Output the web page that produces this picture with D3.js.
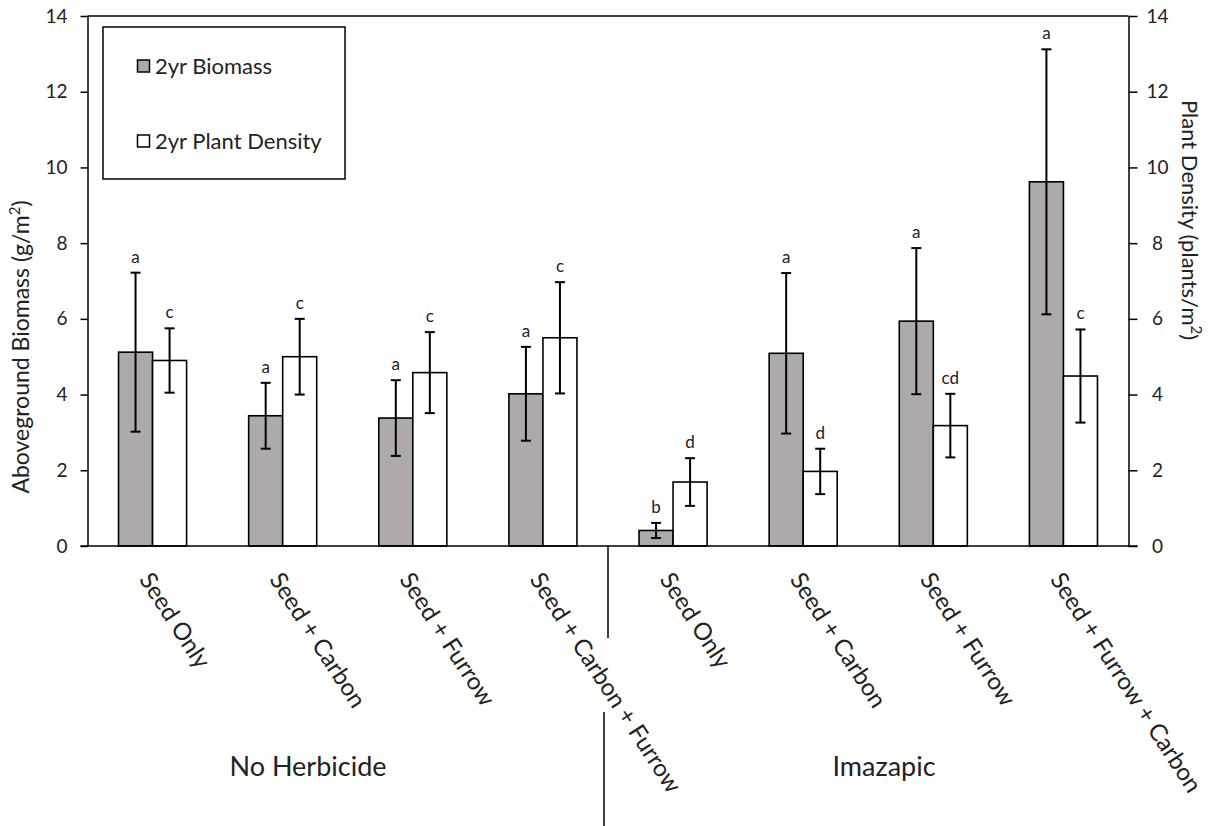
<!DOCTYPE html>
<html>
<head>
<meta charset="utf-8">
<script src="https://cdn.jsdelivr.net/npm/d3@7"></script>
<style>
  html, body { margin: 0; padding: 0; background: #fff; }
  svg { display: block; font-family: Lato, "Open Sans", sans-serif; }
</style>
</head>
<body>
<svg id="chart" width="1212" height="826"></svg>
<script>
// ---- data ----
const categories = ["Seed Only", "Seed + Carbon", "Seed + Furrow", "Seed + Carbon + Furrow",
                    "Seed Only", "Seed + Carbon", "Seed + Furrow", "Seed + Furrow + Carbon"];
const groups = ["No Herbicide", "Imazapic"];
const biomass = [5.12, 3.44, 3.38, 4.02, 0.41, 5.09, 5.94, 9.62];
const biomassErr = [2.10, 0.87, 1.00, 1.24, 0.20, 2.12, 1.93, 3.50];
const biomassLetters = ["a", "a", "a", "a", "b", "a", "a", "a"];
const density = [4.90, 5.00, 4.58, 5.50, 1.69, 1.97, 3.18, 4.49];
const densityErr = [0.85, 1.00, 1.07, 1.47, 0.63, 0.60, 0.84, 1.23];
const densityLetters = ["c", "c", "c", "c", "d", "d", "cd", "c"];
const yTicks = [0, 2, 4, 6, 8, 10, 12, 14];
const seriesNames = ["2yr Biomass", "2yr Plant Density"];

// ---- layout ----
const svg = d3.select("#chart");
const X0 = 87.5, X1 = 1128.5, Y0 = 546, Y1 = 16;
const grayFill = "#aeaaaa";

const idx = d3.range(categories.length);
const x = d3.scaleBand().domain(idx).range([X0, X1]).paddingInner(0.477).paddingOuter(0.2385);
const inner = d3.scaleBand().domain([0, 1]).range([0, x.bandwidth()]);
const yL = d3.scaleLinear().domain([0, 14]).range([Y0, Y1]);
const yR = d3.scaleLinear().domain([0, 14]).range([Y0, Y1]);

// top border
svg.append("line").attr("x1", X0).attr("x2", X1).attr("y1", Y1).attr("y2", Y1)
  .attr("stroke", "#000").attr("stroke-width", 1.5);

// left axis
const gL = svg.append("g").attr("transform", `translate(${X0},0)`)
  .call(d3.axisLeft(yL).tickValues(yTicks).tickSize(7).tickSizeOuter(0).tickPadding(13));
gL.select(".domain").attr("stroke-width", 1.5);
gL.selectAll(".tick line").attr("stroke-width", 1.5);
gL.selectAll(".tick text").attr("font-size", 19).attr("font-family", "Lato").attr("fill", "#222");

// right axis
const gR = svg.append("g").attr("transform", `translate(${X1},0)`)
  .call(d3.axisRight(yR).tickValues(yTicks).tickSize(9).tickSizeOuter(0).tickPadding(20));
gR.select(".domain").attr("stroke-width", 1.5);
gR.selectAll(".tick line").attr("stroke-width", 1.5);
gR.selectAll(".tick text").attr("font-size", 19).attr("font-family", "Lato").attr("fill", "#222")
  .attr("text-anchor", "middle").attr("x", 29);

// bars
const series = [
  { vals: biomass, err: biomassErr, letters: biomassLetters, fill: grayFill, k: 0, y: yL },
  { vals: density, err: densityErr, letters: densityLetters, fill: "#fff", k: 1, y: yR }
];
series.forEach(s => {
  const g = svg.append("g");
  idx.forEach(i => {
    const bx = x(i) + inner(s.k);
    const bw = inner.bandwidth();
    g.append("rect").attr("x", bx).attr("y", s.y(s.vals[i]))
      .attr("width", bw).attr("height", s.y(0) - s.y(s.vals[i]))
      .attr("fill", s.fill).attr("stroke", "#000").attr("stroke-width", 1.6);
  });
});
// baseline over bars
svg.append("line").attr("x1", X0 - 7).attr("x2", X1 + 9).attr("y1", Y0).attr("y2", Y0)
  .attr("stroke", "#000").attr("stroke-width", 1.5);

// error bars + letters
series.forEach(s => {
  const g = svg.append("g");
  idx.forEach(i => {
    const cx = x(i) + inner(s.k) + inner.bandwidth() / 2;
    const hi = s.y(s.vals[i] + s.err[i]);
    const lo = s.y(s.vals[i] - s.err[i]);
    g.append("line").attr("x1", cx).attr("x2", cx).attr("y1", hi).attr("y2", lo)
      .attr("stroke", "#000").attr("stroke-width", 2);
    [hi, lo].forEach(yy => g.append("line").attr("x1", cx - 5).attr("x2", cx + 5)
      .attr("y1", yy).attr("y2", yy).attr("stroke", "#000").attr("stroke-width", 2));
    g.append("text").attr("x", cx).attr("y", hi - 10).attr("text-anchor", "middle")
      .attr("font-size", 17).attr("fill", "#222").text(s.letters[i]);
  });
});

// x category labels
idx.forEach(i => {
  const cx = x(i) + x.bandwidth() / 2;
  svg.append("text")
    .attr("transform", `translate(${cx - 7},${575}) rotate(57)`)
    .attr("dy", "0.35em")
    .attr("font-size", 24).attr("fill", "#222")
    .text(categories[i]);
});

// group divider
const divX = (x(3) + x.bandwidth() + x(4)) / 2;
svg.append("line").attr("x1", divX).attr("x2", divX).attr("y1", Y0).attr("y2", 638)
  .attr("stroke", "#000").attr("stroke-width", 1.5);
svg.append("line").attr("x1", divX - 4).attr("x2", divX - 4).attr("y1", 712).attr("y2", 826)
  .attr("stroke", "#000").attr("stroke-width", 1.5);

// group labels
svg.append("text").attr("x", 308).attr("y", 776).attr("text-anchor", "middle")
  .attr("font-size", 27).attr("fill", "#222").text(groups[0]);
svg.append("text").attr("x", 884).attr("y", 776).attr("text-anchor", "middle")
  .attr("font-size", 27).attr("fill", "#222").text(groups[1]);

// axis titles
const tL = svg.append("text").attr("transform", "translate(29,347) rotate(-90)")
  .attr("text-anchor", "middle").attr("font-size", 23).attr("fill", "#222");
tL.append("tspan").text("Aboveground Biomass (g/m");
tL.append("tspan").attr("font-size", 15).attr("dy", -9).text("2");
tL.append("tspan").attr("dy", 9).text(")");

const tR = svg.append("text").attr("transform", "translate(1182,220) rotate(90)")
  .attr("text-anchor", "middle").attr("font-size", 22).attr("fill", "#222");
tR.append("tspan").text("Plant Density (plants/m");
tR.append("tspan").attr("font-size", 15).attr("dy", -9).text("2");
tR.append("tspan").attr("dy", 9).text(")");

// legend
const lg = svg.append("g");
lg.append("rect").attr("x", 103).attr("y", 27).attr("width", 242).attr("height", 152)
  .attr("fill", "#fff").attr("stroke", "#000").attr("stroke-width", 1.5);
const legendY = [66, 141];
series.forEach((s, j) => {
  lg.append("rect").attr("x", 137.5).attr("y", legendY[j] - 6).attr("width", 12).attr("height", 12)
    .attr("fill", s.fill).attr("stroke", "#000").attr("stroke-width", 1.5);
  lg.append("text").attr("x", 155).attr("y", legendY[j]).attr("dy", "0.35em")
    .attr("font-size", 22).attr("fill", "#222").text(seriesNames[j]);
});
</script>
</body>
</html>
